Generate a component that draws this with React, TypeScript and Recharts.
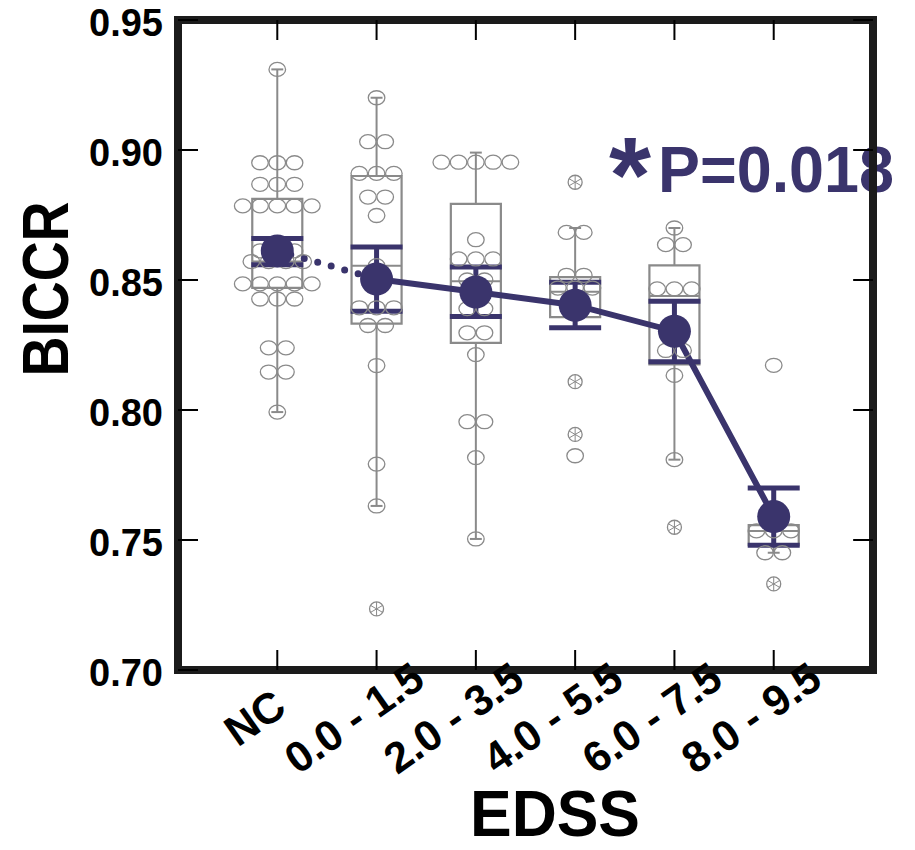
import React from 'react';
import {
  ComposedChart,
  Scatter,
  Line,
  XAxis,
  YAxis,
  ErrorBar,
  ReferenceArea,
  ReferenceLine,
} from 'recharts';

// EDSS groups (x = 1..6 on a numeric axis running 0..7)
const CATEGORIES = ['NC', '0.0 - 1.5', '2.0 - 3.5', '4.0 - 5.5', '6.0 - 7.5', '8.0 - 9.5'];
const X_TICKS = [1, 2, 3, 4, 5, 6];
const Y_TICKS = [0.7, 0.75, 0.8, 0.85, 0.9, 0.95];
const X_DOMAIN = [0, 7];
const Y_DOMAIN = [0.7, 0.95];

// mean ± error per group
const MEANS = [0.8612, 0.8504, 0.8454, 0.8403, 0.8303, 0.759];
const ERR_LOW = [0.8559, 0.838, 0.836, 0.8316, 0.8186, 0.748];
const ERR_HIGH = [0.866, 0.8627, 0.855, 0.8491, 0.8418, 0.77];

// box plot stats
const Q1 = [0.847, 0.8332, 0.8258, 0.8357, 0.8175, 0.748];
const MEDIAN = [0.8571, 0.8555, 0.8495, 0.8455, 0.8438, 0.7535];
const Q3 = [0.8812, 0.89, 0.8793, 0.8511, 0.8556, 0.7557];
const WHISKER_LOW = [0.7992, 0.7631, 0.7504, 0.8357, 0.7809, 0.7451];
const WHISKER_HIGH = [0.931, 0.9201, 0.899, 0.87, 0.87, 0.7557];

// individual subjects: [value, how many at that value]
const OBS_NC = [[0.931, 1], [0.8951, 3], [0.8868, 3], [0.8785, 5], [0.8612, 3], [0.8571, 4], [0.8485, 5], [0.8427, 3], [0.8239, 2], [0.8146, 2], [0.7992, 1]];
const OBS_G1 = [[0.9201, 1], [0.9032, 2], [0.891, 3], [0.8819, 2], [0.8748, 1], [0.8555, 1], [0.8393, 3], [0.8325, 2], [0.8171, 1], [0.7792, 1], [0.7631, 1]];
const OBS_G2 = [[0.8953, 5], [0.8655, 1], [0.8581, 3], [0.85, 2], [0.839, 2], [0.8297, 2], [0.8213, 1], [0.7955, 2], [0.7817, 1], [0.7504, 1]];
const OBS_G3 = [[0.8683, 2], [0.8518, 2], [0.8469, 3], [0.7824, 1]];
const OBS_G4 = [[0.87, 1], [0.8636, 2], [0.8466, 3], [0.8229, 2], [0.8133, 1], [0.7809, 1]];
const OBS_G5 = [[0.8172, 1], [0.7535, 3], [0.7451, 2]];
const OBS = [OBS_NC, OBS_G1, OBS_G2, OBS_G3, OBS_G4, OBS_G5];

// outliers drawn with the starred marker: [group, value]
const STARRED = [[2, 0.7235], [4, 0.8876], [4, 0.8109], [4, 0.7906], [5, 0.7549], [6, 0.7331]];

const BLUE = '#3a346c';
const GRAY = '#8a8a8a';
const FRAME = '#1b1b1b';
const FONT = '"Liberation Sans", Arial, Helvetica, sans-serif';

const DOT_STEP = 0.174; // horizontal spacing between stacked subjects (axis units)
const BOX_HALF = 0.252;
const CAP_HALF = 0.06;
const TICK_X = 0.2; // inward tick length on the right frame (x units)
const TICK_Y = 0.0077; // inward tick length on the top frame (y units)

const dotData = OBS.flatMap((rows, g) =>
  rows.flatMap(([v, n]) =>
    Array.from({ length: n }, (_, k) => ({ x: g + 1 + (k - (n - 1) / 2) * DOT_STEP, y: v }))
  )
);
const starData = STARRED.map(([g, v]) => ({ x: g, y: v }));
const meanData = MEANS.map((m, i) => ({ x: i + 1, y: m, err: [m - ERR_LOW[i], ERR_HIGH[i] - m] }));
const dottedData = meanData.slice(0, 2);
const solidData = meanData.slice(1);

const Ring = (p: any) => (
  <ellipse cx={p.cx} cy={p.cy} rx={8.3} ry={7} fill="none" stroke={GRAY} strokeWidth={1.3} />
);

const StarRing = (p: any) => {
  const r = 7;
  const spokes = [90, 30, 150].map((a) => {
    const dx = Math.cos((a * Math.PI) / 180) * r;
    const dy = Math.sin((a * Math.PI) / 180) * r;
    return <line key={a} x1={p.cx - dx} y1={p.cy - dy} x2={p.cx + dx} y2={p.cy + dy} stroke={GRAY} strokeWidth={1} />;
  });
  return (
    <g>
      <circle cx={p.cx} cy={p.cy} r={r} fill="none" stroke={GRAY} strokeWidth={1.3} />
      {spokes}
    </g>
  );
};

const MeanDot = (p: any) => <circle cx={p.cx} cy={p.cy} r={16.5} fill={BLUE} />;

const YTick = ({ x, y, payload }: any) => (
  <text x={x} y={y} dy={16} textAnchor="end" fontFamily={FONT} fontWeight="bold" fontSize={38} fill="#000">
    {payload.value.toFixed(2)}
  </text>
);

const XTick = ({ x, y, payload }: any) => {
  const label = CATEGORIES[payload.value - 1];
  const px = x - 14;
  return (
    <text
      x={px}
      y={y}
      textAnchor="middle"
      transform={`rotate(-35, ${px}, ${y})`}
      fontFamily={FONT}
      fontWeight="bold"
      fontSize={43}
      fill="#000"
    >
      {label}
    </text>
  );
};

const frame = { stroke: FRAME, strokeWidth: 8, strokeLinecap: 'square' as const };
const tickLine = { stroke: '#000', strokeWidth: 2 };

export default function App() {
  return (
    <div style={{ position: 'absolute', left: 0, top: 0, background: '#fff' }}>
      <ComposedChart width={915} height={850} margin={{ top: 20, right: 42, left: 0, bottom: 0 }}>
        <XAxis
          dataKey="x"
          type="number"
          domain={X_DOMAIN}
          ticks={X_TICKS}
          interval={0}
          allowDataOverflow
          height={180}
          axisLine={frame}
          tickLine={tickLine}
          tickSize={-20}
          tickMargin={80}
          tick={<XTick />}
        />
        <YAxis
          dataKey="y"
          type="number"
          domain={Y_DOMAIN}
          ticks={Y_TICKS}
          interval={0}
          allowDataOverflow
          width={178}
          axisLine={frame}
          tickLine={tickLine}
          tickSize={-20}
          tickMargin={35}
          tick={<YTick />}
        />

        {/* top / right frame with inward ticks */}
        <ReferenceArea
          x1={X_DOMAIN[0]}
          x2={X_DOMAIN[1]}
          y1={Y_DOMAIN[0]}
          y2={Y_DOMAIN[1]}
          fill="none"
          fillOpacity={0}
          stroke={FRAME}
          strokeWidth={8}
          ifOverflow="visible"
        />
        {X_TICKS.map((t) => (
          <ReferenceLine
            key={`tt-${t}`}
            segment={[{ x: t, y: Y_DOMAIN[1] }, { x: t, y: Y_DOMAIN[1] - TICK_Y }]}
            stroke="#000"
            strokeWidth={2}
            ifOverflow="visible"
          />
        ))}
        {Y_TICKS.map((t) => (
          <ReferenceLine
            key={`rt-${t}`}
            segment={[{ x: X_DOMAIN[1], y: t }, { x: X_DOMAIN[1] - TICK_X, y: t }]}
            stroke="#000"
            strokeWidth={2}
            ifOverflow="visible"
          />
        ))}

        {CATEGORIES.map((c, i) => (
          <ReferenceArea
            key={`box-${c}`}
            x1={i + 1 - BOX_HALF}
            x2={i + 1 + BOX_HALF}
            y1={Q1[i]}
            y2={Q3[i]}
            fill="none"
            fillOpacity={0}
            stroke={GRAY}
            strokeWidth={2.2}
          />
        ))}
        {CATEGORIES.map((c, i) => (
          <ReferenceLine
            key={`med-${c}`}
            segment={[{ x: i + 1 - BOX_HALF, y: MEDIAN[i] }, { x: i + 1 + BOX_HALF, y: MEDIAN[i] }]}
            stroke={GRAY}
            strokeWidth={2}
          />
        ))}
        {CATEGORIES.map((c, i) =>
          WHISKER_HIGH[i] > Q3[i] ? (
            <ReferenceLine
              key={`wh-${c}`}
              segment={[{ x: i + 1, y: Q3[i] }, { x: i + 1, y: WHISKER_HIGH[i] }]}
              stroke={GRAY}
              strokeWidth={2}
            />
          ) : null
        )}
        {CATEGORIES.map((c, i) =>
          WHISKER_HIGH[i] > Q3[i] ? (
            <ReferenceLine
              key={`whc-${c}`}
              segment={[{ x: i + 1 - CAP_HALF, y: WHISKER_HIGH[i] }, { x: i + 1 + CAP_HALF, y: WHISKER_HIGH[i] }]}
              stroke={GRAY}
              strokeWidth={2}
            />
          ) : null
        )}
        {CATEGORIES.map((c, i) =>
          WHISKER_LOW[i] < Q1[i] ? (
            <ReferenceLine
              key={`wl-${c}`}
              segment={[{ x: i + 1, y: WHISKER_LOW[i] }, { x: i + 1, y: Q1[i] }]}
              stroke={GRAY}
              strokeWidth={2}
            />
          ) : null
        )}
        {CATEGORIES.map((c, i) =>
          WHISKER_LOW[i] < Q1[i] ? (
            <ReferenceLine
              key={`wlc-${c}`}
              segment={[{ x: i + 1 - CAP_HALF, y: WHISKER_LOW[i] }, { x: i + 1 + CAP_HALF, y: WHISKER_LOW[i] }]}
              stroke={GRAY}
              strokeWidth={2}
            />
          ) : null
        )}

        <Scatter data={dotData} shape={<Ring />} isAnimationActive={false} />
        <Scatter data={starData} shape={<StarRing />} isAnimationActive={false} />

        <Line
          data={dottedData}
          dataKey="y"
          type="linear"
          stroke={BLUE}
          strokeWidth={7}
          strokeDasharray="0 14"
          strokeLinecap="round"
          dot={false}
          activeDot={false}
          isAnimationActive={false}
        />
        <Line
          data={solidData}
          dataKey="y"
          type="linear"
          stroke={BLUE}
          strokeWidth={6}
          dot={false}
          activeDot={false}
          isAnimationActive={false}
        />
        <Scatter data={meanData} shape={<MeanDot />} isAnimationActive={false}>
          <ErrorBar dataKey="err" direction="y" width={26} strokeWidth={5} stroke={BLUE} isAnimationActive={false} />
        </Scatter>

        <text x={609} y={212} fontFamily={FONT} fontWeight="bold" fontSize={108} fill={BLUE}>
          *
        </text>
        <text
          x={658}
          y={192}
          fontFamily={FONT}
          fontWeight="bold"
          fontSize={64}
          fill={BLUE}
          textLength={236}
          lengthAdjust="spacingAndGlyphs"
        >
          P=0.018
        </text>
        <text
          x={555}
          y={836}
          textAnchor="middle"
          fontFamily={FONT}
          fontWeight="bold"
          fontSize={64}
          fill="#000"
          textLength={170}
          lengthAdjust="spacingAndGlyphs"
        >
          EDSS
        </text>
        <text
          x={68}
          y={289}
          textAnchor="middle"
          transform="rotate(-90, 68, 289)"
          fontFamily={FONT}
          fontWeight="bold"
          fontSize={65}
          fill="#000"
          textLength={175}
          lengthAdjust="spacingAndGlyphs"
        >
          BICCR
        </text>
      </ComposedChart>
    </div>
  );
}
